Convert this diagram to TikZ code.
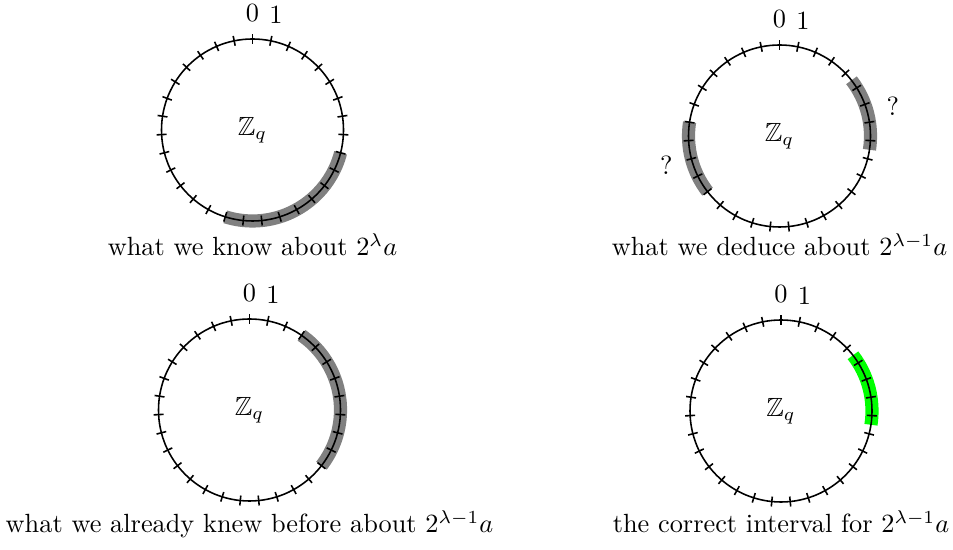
\documentclass[tikz,border=0pt]{standalone}
\usepackage{amssymb}
\begin{document}
\begin{tikzpicture}[x=0.38pt,y=0.38pt,declare function={bk=91;vach=5;nhan=117;vt(\k)=90-\k*360/31;}]
	\tikzset{ring/.style={semithick},
		band/.style={line width=5pt,gray},
		goodband/.style={line width=5pt,green}}
	\useasboundingbox (0,0) rectangle (953,550);
	
	% Centres of the four circles
	\coordinate (O1) at (252.5,420);
	\coordinate (O2) at (779.5,414);
	\coordinate (O3) at (249.5,140);
	\coordinate (O4) at (781,139);
	
	% Intervals (drawn below the circles)
	\draw[band] (O1) ++({vt(9)}:bk) arc[start angle={vt(9)},end angle={vt(17)},radius=bk];
	\draw[band] (O2) ++({vt(4.5)}:bk) arc[start angle={vt(4.5)},end angle={vt(8.5)},radius=bk];
	\draw[band] (O2) ++({vt(20)}:bk) arc[start angle={vt(20)},end angle={vt(24)},radius=bk];
	\draw[band] (O3) ++({vt(3)}:bk) arc[start angle={vt(3)},end angle={vt(11)},radius=bk];
	\draw[goodband] (O4) ++({vt(4.5)}:bk) arc[start angle={vt(4.5)},end angle={vt(8.5)},radius=bk];
	
	% Circles, ticks and labels
	\foreach \c in {O1,O2,O3,O4}{
		\draw[ring] (\c) circle[radius=bk];
		\foreach \k in {0,...,30}
			\draw[ring] (\c) ++({vt(\k)}:{bk-vach}) -- ++({vt(\k)}:{2*vach});
		\node (\c-z) at (\c) {$\mathbb{Z}_q$};
		\path (\c) ++(90:nhan) node (\c-0) {$0$};
		\path (\c) ++({vt(1)}:nhan) node (\c-1) {$1$};
	}
	
	% Question marks
	\path (O2) ++({vt(6.5)}:nhan) node (qr) {?};
	\path (O2) ++({vt(22)}:nhan) node (ql) {?};
	
	% Captions
	\node[anchor=base] (cap1) at (252.5,294) {what we know about $2^\lambda a$};
	\node[anchor=base] (cap2) at (779.5,294) {what we deduce about $2^{\lambda-1}a$};
	\node[anchor=base] (cap3) at (249.5,17) {what we already knew before about $2^{\lambda-1}a$};
	\node[anchor=base] (cap4) at (781,17) {the correct interval for $2^{\lambda-1}a$};
\end{tikzpicture}
\end{document}
